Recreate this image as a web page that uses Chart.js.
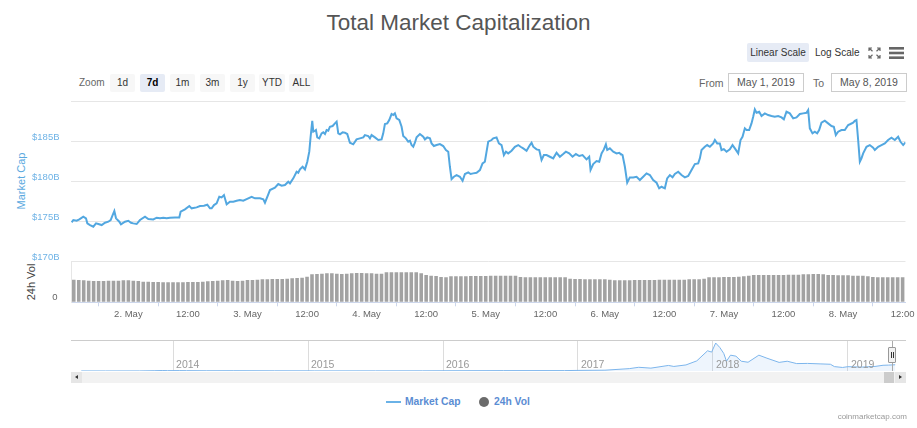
<!DOCTYPE html>
<html><head><meta charset="utf-8">
<script src="https://cdn.jsdelivr.net/npm/chart.js@4.4.1/dist/chart.umd.min.js"></script>
<style>
html,body{margin:0;padding:0;background:#fff;}
body{width:917px;height:428px;position:relative;overflow:hidden;font-family:"Liberation Sans",Arial,sans-serif;}
.a{position:absolute;white-space:nowrap;}
.btn{position:absolute;top:74px;height:18px;line-height:18px;width:25px;text-align:center;background:#f7f7f7;border-radius:2px;font-size:10px;color:#333;}
.sel{background:#e6ebf5;font-weight:bold;color:#000;}
.inp{position:absolute;top:73px;height:17px;line-height:17px;width:74px;border:1px solid #ccc;text-align:center;font-size:10.5px;color:#555;}
canvas{position:absolute;left:0;}
</style></head><body>

<div class="a" style="left:0;top:9px;width:917px;text-align:center;font-size:22.5px;line-height:28px;color:#555;">Total Market Capitalization</div>

<div class="a" style="left:747px;top:43px;width:62px;height:19px;line-height:19px;background:#e6ebf5;border-radius:2px;text-align:center;font-size:10px;color:#333;">Linear Scale</div>
<div class="a" style="left:815px;top:43px;height:19px;line-height:19px;font-size:10px;color:#333;">Log Scale</div>
<svg class="a" style="left:868px;top:47px" width="13" height="12" viewBox="0 0 13 12">
<g stroke="#666" stroke-width="1.2" fill="none">
<path d="M1 4V1H4M1 1L4.5 4.2"/><path d="M12 4V1H9M12 1L8.5 4.2"/>
<path d="M1 8V11H4M1 11L4.5 7.8"/><path d="M12 8V11H9M12 11L8.5 7.8"/></g></svg>
<svg class="a" style="left:889px;top:47px" width="15" height="12" viewBox="0 0 15 12">
<g fill="#666"><rect x="0" y="0" width="15" height="2.6"/><rect x="0" y="4.7" width="15" height="2.6"/><rect x="0" y="9.4" width="15" height="2.6"/></g></svg>

<div class="a" style="left:79px;top:74px;height:18px;line-height:18px;font-size:10px;color:#666;">Zoom</div>
<div class="btn" style="left:110px;">1d</div>
<div class="btn sel" style="left:140px;">7d</div>
<div class="btn" style="left:170px;">1m</div>
<div class="btn" style="left:200px;">3m</div>
<div class="btn" style="left:230px;">1y</div>
<div class="btn" style="left:259px;width:26px;">YTD</div>
<div class="btn" style="left:289px;">ALL</div>

<div class="a" style="left:699px;top:74px;height:18px;line-height:18px;font-size:10.5px;color:#666;">From</div>
<div class="inp" style="left:728px;">May 1, 2019</div>
<div class="a" style="left:813px;top:74px;height:18px;line-height:18px;font-size:10.5px;color:#666;">To</div>
<div class="inp" style="left:831px;">May 8, 2019</div>

<div class="a" style="left:21px;top:181px;transform:translate(-50%,-50%) rotate(-90deg);font-size:11px;color:#5aa9e0;">Market Cap</div>
<div class="a" style="left:30.5px;top:282px;transform:translate(-50%,-50%) rotate(-90deg);font-size:11px;color:#444;">24h Vol</div>

<canvas id="main" width="917" height="235" style="top:95px"></canvas>
<canvas id="nav" width="917" height="40" style="top:335px"></canvas>

<div class="a" style="left:71px;top:340px;width:835px;height:0;border-top:1px solid #ccc;"></div>
<div class="a" style="left:892px;top:341px;width:0;height:30px;border-left:1px solid #aaa;"></div>
<div class="a" style="left:888px;top:347px;width:6px;height:14px;background:#f2f2f2;border:1px solid #999;border-radius:1px;">
<div class="a" style="left:2px;top:4px;width:0;height:6px;border-left:1px solid #333;"></div>
<div class="a" style="left:4px;top:4px;width:0;height:6px;border-left:1px solid #333;"></div></div>

<div class="a" style="left:71px;top:372px;width:835px;height:11px;background:#f2f2f2;"></div>
<div class="a" style="left:71px;top:372px;width:11px;height:11px;background:#e6e6e6;"></div>
<div class="a" style="left:75px;top:375px;width:0;height:0;border-top:2.5px solid transparent;border-bottom:2.5px solid transparent;border-right:3px solid #333;"></div>
<div class="a" style="left:884px;top:372px;width:10px;height:11px;background:#ccc;"></div>
<div class="a" style="left:895px;top:372px;width:11px;height:11px;background:#e6e6e6;"></div>
<div class="a" style="left:899px;top:375px;width:0;height:0;border-top:2.5px solid transparent;border-bottom:2.5px solid transparent;border-left:3px solid #333;"></div>

<div class="a" style="left:386px;top:401px;width:15px;height:2px;background:#6ab2e7;"></div>
<div class="a" style="left:405px;top:395px;line-height:14px;font-size:10.3px;font-weight:bold;color:#5b8dd3;">Market Cap</div>
<div class="a" style="left:479px;top:397px;width:10px;height:10px;border-radius:5px;background:#6b6b6b;"></div>
<div class="a" style="left:494px;top:395px;line-height:14px;font-size:10.3px;font-weight:bold;color:#5b8dd3;">24h Vol</div>

<div class="a" style="right:10px;top:411px;line-height:12px;font-size:8px;color:#999;">coinmarketcap.com</div>

<script>
// Market cap (USD billions) by hour since 1 May 2019 00:00
const capHours = [12.57,12.91,13.58,14.12,14.92,15.46,15.73,16.27,16.94,17.48,17.95,18.62,19.29,19.96,20.43,20.83,21.17,21.51,22.18,22.51,23.32,23.99,24.53,24.99,25.67,26.34,27.35,28.02,29.02,29.70,30.37,31.04,31.71,32.38,33.39,34.26,34.53,35.40,36.28,36.75,37.75,38.43,39.23,39.90,40.44,40.78,41.25,41.78,42.32,42.79,43.26,43.80,44.47,45.14,45.81,46.48,47.15,47.83,48.83,49.51,50.51,51.19,51.52,52.19,52.53,53.53,54.20,54.88,55.55,56.22,56.56,57.23,57.90,58.23,58.57,59.11,59.58,60.05,60.45,60.72,61.05,61.26,61.59,61.79,62.06,62.46,62.93,63.27,63.61,63.94,64.28,64.61,65.15,65.62,65.96,66.29,66.63,67.17,67.63,68.10,
68.64,69.31,69.98,70.65,71.33,71.66,72.33,72.67,73.00,73.68,74.35,75.02,75.35,75.69,76.16,76.56,77.03,77.37,77.70,78.04,78.58,79.05,79.38,79.92,80.39,80.73,81.06,81.40,81.73,82.07,82.74,83.41,83.75,84.22,84.76,85.09,85.56,86.10,86.77,87.44,87.98,88.45,88.78,89.12,89.59,90.13,90.80,91.34,91.81,92.48,92.95,93.48,94.16,94.83,95.36,95.83,96.17,96.51,97.18,97.51,98.18,98.65,99.19,99.66,100.07,100.53,101.21,101.88,102.55,103.02,103.56,104.23,104.90,105.24,105.57,106.24,106.78,107.25,107.72,108.26,108.93,109.60,110.27,110.94,111.61,112.15,112.82,113.49,114.17,114.84,115.51,116.31,116.85,117.12,117.66,118.33,118.87,119.34,119.81,120.21,120.48,121.01,121.69,122.36,122.90,
123.03,123.57,124.04,124.51,125.04,125.72,126.39,127.06,127.73,128.40,129.07,129.74,130.42,130.95,131.42,132.09,132.56,133.10,133.64,134.11,134.78,135.45,136.12,136.80,137.47,138.14,138.81,139.15,139.48,140.15,140.62,141.16,141.83,142.17,142.64,143.17,143.51,143.98,144.52,145.19,145.73,146.20,146.87,147.34,147.74,148.21,148.55,149.08,149.55,149.89,150.22,150.56,151.10,151.57,152.24,152.91,153.58,154.25,154.92,155.60,156.07,156.60,157.27,157.95,158.62,159.29,159.96,160.63,160.97,161.30,161.84,162.31,162.78,163.18,163.65,164.32,164.99,165.67,166.14,166.54,167.01,167.68,168.35,169.03,169.50,170.03,170.37,170.70,171.04,171.38,171.71,172.05,172.72,173.39,174.06,174.40,175.07,175.74,176.41,177.08,177.75,178.43,179.10,179.57,180.11,180.58];
const capValues = [174.92,175.21,175.12,175.29,175.62,175.42,174.79,174.58,174.38,174.79,174.71,174.58,174.87,175.00,175.21,175.83,176.33,175.42,175.00,174.67,175.00,175.12,174.87,174.79,174.71,175.21,175.62,175.33,175.29,175.50,175.42,175.50,175.42,175.50,175.54,175.54,176.25,176.54,176.96,176.67,176.79,176.96,177.00,177.12,176.67,176.67,177.08,177.29,178.12,178.04,178.33,177.17,177.50,177.50,177.62,177.71,177.62,177.83,178.12,177.92,177.92,177.79,177.37,178.42,178.96,179.25,179.71,179.50,179.58,180.00,179.79,180.42,181.25,181.12,181.54,181.87,181.54,182.50,183.75,185.62,187.62,186.25,186.37,186.46,185.54,185.42,186.04,186.17,185.96,186.46,186.37,186.87,186.96,187.29,187.50,186.04,185.92,186.17,186.12,185.96,
184.87,184.67,185.29,185.42,185.54,185.83,185.71,185.42,185.83,185.54,185.21,185.29,186.04,187.21,187.29,187.71,188.46,188.33,188.54,187.92,187.71,186.87,185.71,185.42,185.00,185.12,184.58,184.37,184.87,185.54,185.96,185.62,185.29,185.54,185.42,184.79,184.46,184.58,184.71,184.46,183.96,183.75,181.87,180.33,180.62,180.83,180.62,180.12,180.96,181.17,180.96,181.04,181.12,181.46,182.29,182.50,183.75,185.00,185.21,185.42,185.54,184.79,184.58,183.33,183.75,183.54,183.87,184.37,184.58,184.37,184.17,183.87,184.58,184.87,184.37,184.04,183.96,182.71,183.33,183.33,183.12,182.92,183.62,183.12,183.46,183.75,183.54,183.12,183.46,183.21,183.33,182.79,183.12,181.46,182.21,182.58,182.50,183.54,184.04,184.67,183.96,184.17,183.75,183.54,183.62,
183.54,183.33,181.87,179.87,180.54,180.54,180.62,180.21,180.62,181.04,180.83,180.21,179.87,179.17,179.37,179.17,180.42,180.83,180.54,180.96,181.25,180.83,180.54,180.71,181.46,182.21,182.29,182.92,183.96,184.37,184.58,184.37,184.79,185.21,184.79,184.79,183.96,184.08,183.75,184.04,184.58,184.17,183.54,185.21,185.62,186.67,186.46,186.46,187.29,188.12,189.04,188.62,188.75,188.21,188.54,188.33,188.21,188.12,188.21,188.04,187.79,188.75,188.54,187.92,188.04,188.46,188.54,188.62,188.96,186.67,186.04,186.25,186.04,186.46,187.37,187.62,187.29,186.96,186.87,185.83,186.25,186.46,186.46,187.08,187.21,187.37,187.62,187.71,185.21,182.50,182.92,183.54,184.37,184.58,184.25,183.96,184.37,184.58,184.79,185.21,185.50,185.21,185.62,184.99,184.58,184.92];

// 24h volume (USD billions), one bar per hour from hour 13
const volFirstHour = 13;
const volValues = [68,67,66,65, 64,64,64,65,65,65, 66,66,65,64, 62,62,61,61,60, 60,60,60,60,61, 61,61,62, 63,64,65, 66,67, 65,64,65, 67,67,68, 69,69,70,70, 70,71,72, 73,74, 77, 84,85,86, 87,87,86, 85,86,87, 88,88,87,87, 86,86, 90,90,90,90,90,90,90, 87, 82,80,79, 76,75, 78,78,78,78,79,79,79, 79,80,80,80,80,80,80, 76,75,75,75,75,75,75,75,75,75, 71,70,70,69,69,69,69,69,68, 66,66,66,66,67,67,67,67,67, 68,68,68,68,68,68,69,69,69, 71, 75,75,75,76,76,76,77, 78,80, 82,82,82,82,82,82,82, 83,83,83,84, 84,85,85,84, 82,82,81,81,81,80,80,80, 78,76, 75,75,75,75,75,75];
const volHours = volValues.map((_, i) => volFirstHour + i);

const capTicks = [170, 175, 180, 185, 190];
const dayTicks = [24, 36, 48, 60, 72, 84, 96, 108, 120, 132, 144, 156, 168, 180];

// Navigator: full history of total market cap (USD billions) by decimal year
const navYears = [2013.32,2013.5,2013.75,2013.86,2013.92,2013.96,2014.05,2014.1,2014.25,2014.45,2014.75,2015.0,2015.05,2015.5,2015.85,2016.0,2016.45,2016.9,2017.0,2017.2,2017.38,2017.45,2017.54,2017.67,2017.71,2017.8,2017.88,2017.96,2017.99,2018.02,2018.05,2018.08,2018.1,2018.13,2018.17,2018.21,2018.26,2018.34,2018.4,2018.49,2018.55,2018.62,2018.7,2018.8,2018.87,2018.9,2018.96,2019.0,2019.1,2019.2,2019.26,2019.3,2019.35];
const navValues = [1.5,1.2,2.0,8.5,14.5,11,12,10,7,8.5,6,5,3.2,3.8,5.5,7,11,12,18,24,70,110,85,165,135,180,300,600,560,830,700,520,290,470,440,290,260,470,380,255,290,220,225,210,200,130,105,128,115,135,170,175,185];
const yearTicks = [2014, 2015, 2016, 2017, 2018, 2019];

const FONT = '"Liberation Sans", Arial, sans-serif';

new Chart(document.getElementById('main'), {
  type: 'line',
  data: {
    datasets: [
      { type: 'line', label: 'Market Cap', yAxisID: 'y',
        data: capHours.map((h, i) => ({ x: h, y: capValues[i] })),
        borderColor: '#52a7e0', borderWidth: 2, pointRadius: 0, tension: 0, fill: false },
      { type: 'bar', label: '24h Vol', yAxisID: 'yv',
        data: volHours.map((h, i) => ({ x: h, y: volValues[i] })),
        backgroundColor: '#a2a2a2', barPercentage: 0.72, categoryPercentage: 1 }
    ]
  },
  options: {
    responsive: false, animation: false, devicePixelRatio: 1,
    layout: { padding: { top: 6.7, right: 11.5, left: 0, bottom: 0 } },
    plugins: { legend: { display: false }, tooltip: { enabled: false } },
    scales: {
      x: {
        type: 'linear', min: 12.44, max: 180.58, offset: false,
        afterBuildTicks: s => { s.ticks = dayTicks.map(v => ({ value: v })); },
        afterFit: s => { s.height = 27.7; },
        grid: { drawOnChartArea: false, drawTicks: true, tickLength: 4, color: '#ccd6eb' },
        border: { display: true, color: '#ccd6eb' },
        ticks: { autoSkip: false, maxRotation: 0, padding: 2, color: '#666',
          font: { family: FONT, size: 9.5 },
          callback: v => (v % 24 === 0 ? (v / 24 + 1) + '. May' : '12:00') }
      },
      yv: {
        type: 'linear', position: 'left', stack: 'p', stackWeight: 40.6, weight: 0,
        min: 0, max: 122,
        afterBuildTicks: s => { s.ticks = [{ value: 0 }]; },
        afterFit: s => { s.width = 71; },
        grid: { display: true, drawOnChartArea: false, drawTicks: true, tickLength: 13.5,
          color: 'rgba(0,0,0,0)', tickColor: 'rgba(0,0,0,0)' },
        border: { display: true, color: '#e6e6e6' },
        ticks: { padding: 0, labelOffset: -5, color: '#666', font: { family: FONT, size: 9.5 },
          callback: v => String(v) }
      },
      y: {
        type: 'linear', position: 'left', stack: 'p', stackWeight: 160, weight: 1,
        min: 170, max: 190,
        afterBuildTicks: s => { s.ticks = capTicks.map(v => ({ value: v })); },
        afterFit: s => { s.width = 71; },
        grid: { color: '#e6e6e6', drawTicks: true, tickLength: 11.5, tickColor: 'rgba(0,0,0,0)' },
        border: { display: false },
        ticks: { padding: 0, labelOffset: -4.6, color: '#6fb3e6', font: { family: FONT, size: 9.5 },
          callback: v => (v === 190 ? '' : '$' + v + 'B') }
      }
    }
  }
});

const yearLabels = {
  id: 'yearLabels',
  afterDraw(chart) {
    const ctx = chart.ctx, sx = chart.scales.x;
    ctx.save();
    ctx.font = '10.5px ' + FONT;
    ctx.fillStyle = '#999';
    ctx.textBaseline = 'middle';
    yearTicks.forEach(y => ctx.fillText(String(y), sx.getPixelForValue(y) + 3, 30));
    ctx.restore();
  }
};

new Chart(document.getElementById('nav'), {
  type: 'line',
  data: {
    datasets: [{
      data: navYears.map((y, i) => ({ x: y, y: navValues[i] })),
      borderColor: '#7cb5ec', borderWidth: 1, pointRadius: 0, tension: 0,
      fill: 'origin', backgroundColor: 'rgba(124,181,236,0.13)'
    }]
  },
  options: {
    responsive: false, animation: false, devicePixelRatio: 1,
    layout: { padding: { top: 6, right: 11, left: 71, bottom: 4 } },
    plugins: { legend: { display: false }, tooltip: { enabled: false } },
    scales: {
      x: {
        type: 'linear', min: 2013.244, max: 2019.43,
        afterBuildTicks: s => { s.ticks = yearTicks.map(v => ({ value: v })); },
        afterFit: s => { s.height = 0; },
        grid: { color: '#dcdcdc', drawTicks: false },
        border: { display: false },
        ticks: { display: false }
      },
      y: { display: false, min: 0, max: 890 }
    }
  },
  plugins: [yearLabels]
});
</script>
</body></html>
